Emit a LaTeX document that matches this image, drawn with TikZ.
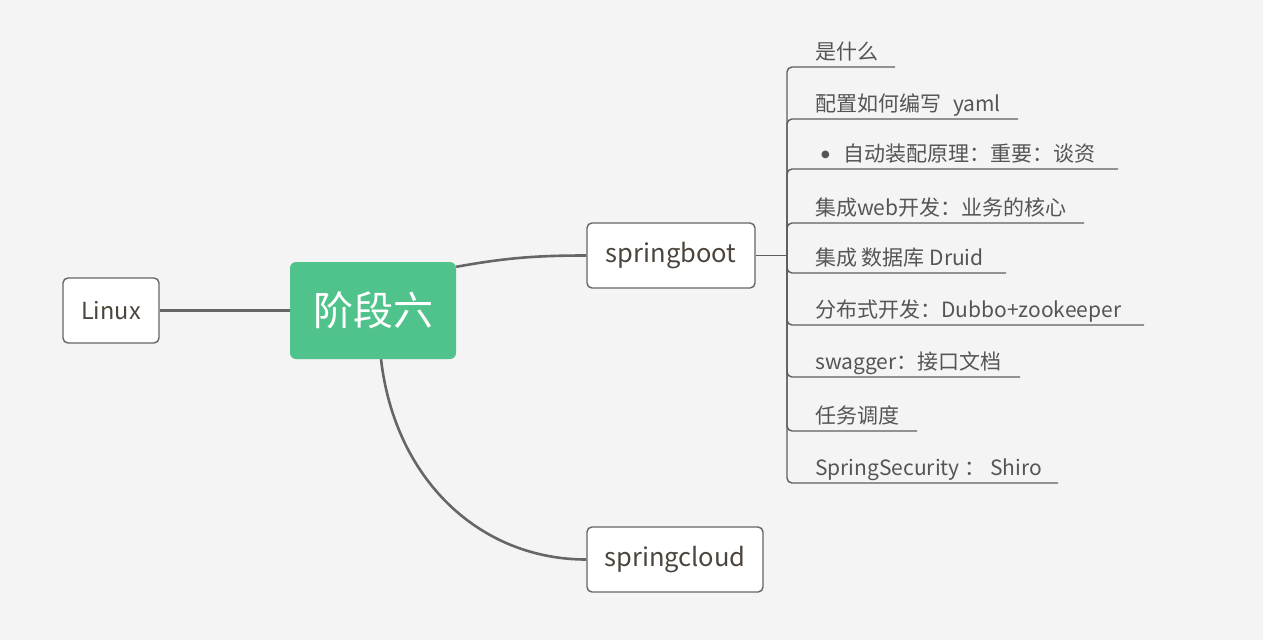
\documentclass[tikz,border=0pt]{standalone}
\usepackage{fontspec}
\setmainfont{Noto Sans CJK SC}
\newfontfamily\symfont{DejaVu Sans}
\definecolor{bg}{HTML}{F4F4F4}
\definecolor{mapgreen}{HTML}{50C38C}
\definecolor{boxline}{HTML}{666666}
\definecolor{connline}{HTML}{666666}
\definecolor{brkline}{HTML}{5E5E5E}
\definecolor{itemtext}{HTML}{555555}
\definecolor{boxtext}{HTML}{4D443C}
\begin{document}
\begin{tikzpicture}[x=1pt,y=-1pt,
  box/.style={draw=boxline, line width=1.4pt, rounded corners=5pt, fill=white, text=boxtext, font=\fontsize{25.5}{29}\selectfont, inner sep=0pt},
  conn/.style={draw=connline, line width=2.6pt},
  brk/.style={draw=brkline, line width=1.4pt, rounded corners=5pt},
  item/.style={anchor=base west, text=itemtext, font=\fontsize{21}{24}\selectfont, inner sep=0pt}]
\fill[bg] (0,0) rectangle (1263,640);
\useasboundingbox (0,0) rectangle (1263,640);

\node[box, minimum width=96pt, minimum height=65pt, font=\fontsize{23.5}{27}\selectfont] (linux) at (111,310.5) {\raisebox{-3pt}{Linux}};
\node[fill=mapgreen, rounded corners=6pt, minimum width=166pt, minimum height=97pt, text=white, inner sep=0pt, font=\fontsize{40}{44}\selectfont] (center) at (373,310.5) {阶段六};
\node[box, minimum width=168pt, minimum height=65pt] (sb) at (671,255.5) {\raisebox{-3.5pt}{springboot}};
\node[box, minimum width=176pt, minimum height=65pt] (sc) at (675,559.5) {\raisebox{-3.5pt}{springcloud}};

\draw[conn] (linux.east) -- (center.west);
\draw[conn] ([yshift=-5pt]center.north east) .. controls (505,258) and (535,255.5) .. (sb.west);
\draw[conn] ([xshift=8pt]center.south) .. controls (395,480) and (480,559.5) .. (sc.west);

\coordinate (hub) at (787,255.5);
\draw[brk, line width=1.8pt] (sb.east) -- (hub);

\coordinate (e1) at (895,67);
\coordinate (e2) at (1018,119);
\coordinate (e3) at (1118,169);
\coordinate (e4) at (1084,223);
\coordinate (e5) at (1006,273);
\coordinate (e6) at (1144,325);
\coordinate (e7) at (1020,377);
\coordinate (e8) at (917,431);
\coordinate (e9) at (1058,483);
\foreach \e in {e1,e2,e3,e4,e5,e6,e7,e8,e9}{\draw[brk] (hub) |- (\e);}

\node[item] (t1) at (815,59) {是什么};
\node[item] (t2) at (815,111) {配置如何编写\hspace{12pt}yaml};
\node[item] (t3) at (821,161) {\raisebox{4pt}{\symfont\fontsize{10}{12}\selectfont ●}\hspace{14pt}自动装配原理：重要：谈资};
\node[item] (t4) at (815,215) {集成web开发：业务的核心};
\node[item] (t5) at (815,265) {集成 数据库 Druid};
\node[item] (t6) at (815,317) {分布式开发：Dubbo+zookeeper};
\node[item] (t7) at (815,369) {swagger：接口文档};
\node[item] (t8) at (815,423) {任务调度};
\node[item] (t9) at (815,475) {SpringSecurity ： Shiro};
\end{tikzpicture}
\end{document}
